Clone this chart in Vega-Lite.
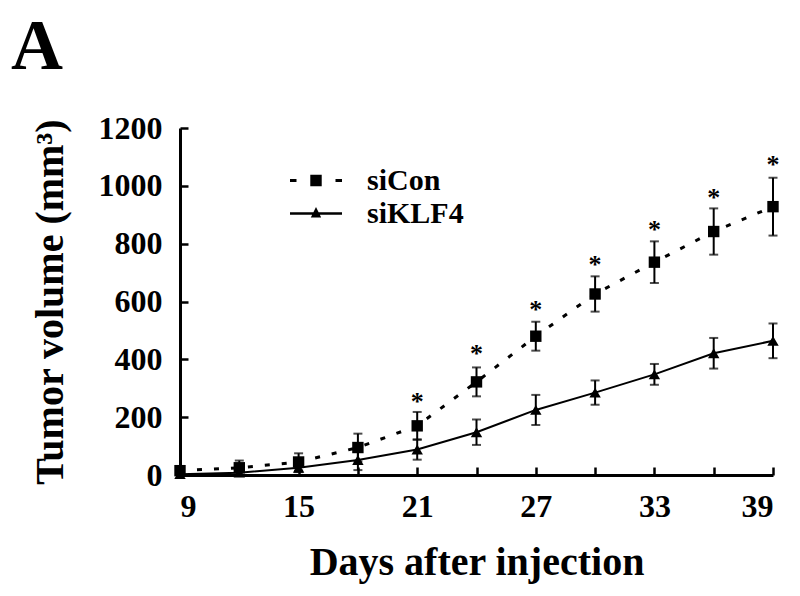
{
  "$schema": "https://vega.github.io/schema/vega-lite/v6.json",
  "autosize": {"type": "none"},
  "width": 593,
  "height": 347,
  "padding": {"left": 180, "top": 128, "right": 27, "bottom": 121},
  "background": "white",
  "title": {"text": "A", "anchor": "start", "frame": "group", "dx": -169, "offset": 28, "fontSize": 72, "font": "Liberation Serif", "fontWeight": "bold", "color": "black"},
  "config": {
    "view": {"stroke": null},
    "font": "Liberation Serif",
    "axis": {
      "grid": false, "domainColor": "black", "domainWidth": 3, "tickColor": "black", "tickWidth": 2.5, "tickSize": -8,
      "labelFont": "Liberation Serif", "labelFontWeight": "bold", "labelFontSize": 32, "labelColor": "black",
      "titleFont": "Liberation Serif", "titleFontWeight": "bold", "titleFontSize": 40, "titleColor": "black"
    }
  },
  "datasets": {
    "tumor": [
      {"day": 9, "group": "siCon", "mean": 15, "err": 10},
      {"day": 12, "group": "siCon", "mean": 25, "err": 25},
      {"day": 15, "group": "siCon", "mean": 45, "err": 30},
      {"day": 18, "group": "siCon", "mean": 95, "err": 48},
      {"day": 21, "group": "siCon", "mean": 170, "err": 48},
      {"day": 24, "group": "siCon", "mean": 322, "err": 50},
      {"day": 27, "group": "siCon", "mean": 480, "err": 50},
      {"day": 30, "group": "siCon", "mean": 626, "err": 61},
      {"day": 33, "group": "siCon", "mean": 736, "err": 72},
      {"day": 36, "group": "siCon", "mean": 842, "err": 80},
      {"day": 39, "group": "siCon", "mean": 928, "err": 100},
      {"day": 9, "group": "siKLF4", "mean": 3, "err": 3},
      {"day": 12, "group": "siKLF4", "mean": 8, "err": 8},
      {"day": 15, "group": "siKLF4", "mean": 25, "err": 15},
      {"day": 18, "group": "siKLF4", "mean": 52, "err": 35},
      {"day": 21, "group": "siKLF4", "mean": 88, "err": 35},
      {"day": 24, "group": "siKLF4", "mean": 148, "err": 44},
      {"day": 27, "group": "siKLF4", "mean": 225, "err": 52},
      {"day": 30, "group": "siKLF4", "mean": 285, "err": 42},
      {"day": 33, "group": "siKLF4", "mean": 348, "err": 36},
      {"day": 36, "group": "siKLF4", "mean": 421, "err": 53},
      {"day": 39, "group": "siKLF4", "mean": 464, "err": 60}
    ],
    "stars": [
      {"day": 21, "y": 271, "mark": "*"},
      {"day": 24, "y": 435, "mark": "*"},
      {"day": 27, "y": 588, "mark": "*"},
      {"day": 30, "y": 744, "mark": "*"},
      {"day": 33, "y": 865, "mark": "*"},
      {"day": 36, "y": 975, "mark": "*"},
      {"day": 39, "y": 1090, "mark": "*"}
    ]
  },
  "encoding": {
    "x": {"field": "day", "type": "quantitative", "scale": {"domain": [9, 39], "zero": false},
      "axis": {"title": "Days after injection", "values": [9, 12, 15, 18, 21, 24, 27, 30, 33, 36, 39], "labelExpr": "datum.value % 6 == 3 ? datum.label : ''", "labelPadding": 24, "titlePadding": 20}}
  },
  "resolve": {"scale": {"shape": "independent"}, "legend": {"shape": "independent"}},
  "layer": [
    {
      "data": {"name": "tumor"},
      "mark": {"type": "errorbar", "ticks": true, "size": 9, "thickness": 2, "color": "black"},
      "encoding": {
        "y": {"field": "mean", "type": "quantitative", "scale": {"domain": [0, 1200]},
          "axis": {"title": "Tumor volume (mm³)", "format": "d", "values": [0, 200, 400, 600, 800, 1000, 1200], "labelPadding": 26, "titlePadding": 28}},
        "yError": {"field": "err"},
        "detail": {"field": "group"}
      }
    },
    {
      "data": {"name": "tumor"},
      "transform": [{"filter": "datum.group == 'siCon'"}],
      "mark": {"type": "line", "color": "black", "strokeCap": "butt", "strokeDash": [5, 12], "strokeWidth": 3},
      "encoding": {
        "y": {"field": "mean", "type": "quantitative", "title": "Tumor volume (mm³)"}
      }
    },
    {
      "data": {"name": "tumor"},
      "transform": [{"filter": "datum.group == 'siKLF4'"}],
      "mark": {"type": "line", "color": "black", "strokeWidth": 2},
      "encoding": {
        "y": {"field": "mean", "type": "quantitative", "title": "Tumor volume (mm³)"}
      }
    },
    {
      "data": {"name": "tumor"},
      "mark": {"type": "point", "filled": true, "color": "black", "opacity": 1, "size": 130},
      "encoding": {
        "y": {"field": "mean", "type": "quantitative", "title": "Tumor volume (mm³)"},
        "shape": {"field": "group", "type": "nominal", "scale": {"domain": ["siCon", "siKLF4"], "range": ["square", "triangle-up"]}, "legend": null}
      }
    },
    {
      "data": {"name": "tumor"},
      "mark": {"type": "point", "filled": true, "color": "black", "opacity": 0, "size": 1},
      "encoding": {
        "y": {"field": "mean", "type": "quantitative", "title": "Tumor volume (mm³)"},
        "shape": {"field": "group", "type": "nominal",
          "scale": {"domain": ["siCon", "siKLF4"], "range": ["M-1,-0.06H-0.75V0.06H-1Z M-0.22,-0.22H0.22V0.22H-0.22Z M0.75,-0.06H1V0.06H0.75Z", "M-1,-0.045H1V0.045H-1Z M0,-0.25L0.2,0.15L-0.2,0.15Z"]},
          "legend": {
            "title": null, "orient": "none", "legendX": 110, "legendY": 36,
            "symbolSize": 2704, "clipHeight": 33, "rowPadding": 0, "labelOffset": 25,
            "labelFont": "Liberation Serif", "labelFontWeight": "bold", "labelFontSize": 30, "labelColor": "black",
            "symbolFillColor": "black", "symbolStrokeWidth": 0, "symbolOpacity": 1
          }}
      }
    },
    {
      "data": {"name": "stars"},
      "mark": {"type": "text", "font": "Liberation Serif", "fontWeight": "bold", "fontSize": 26, "baseline": "alphabetic", "dy": 13, "color": "black"},
      "encoding": {
        "y": {"field": "y", "type": "quantitative", "title": "Tumor volume (mm³)"},
        "text": {"field": "mark"}
      }
    }
  ]
}
